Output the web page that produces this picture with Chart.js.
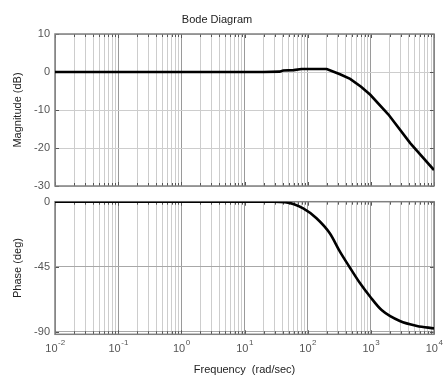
<!DOCTYPE html>
<html>
<head>
<meta charset="utf-8">
<script src="https://cdn.jsdelivr.net/npm/chart.js@4/dist/chart.umd.min.js"></script>
<style>
  html, body { margin: 0; padding: 0; background: #fff; }
  #wrap { position: relative; width: 445px; height: 379px; }
  .box { position: absolute; left: 0; width: 445px; }
</style>
</head>
<body>
<div id="wrap">
  <div class="box" style="top:0;height:200px"><canvas id="mag" width="445" height="200"></canvas></div>
  <div class="box" style="top:190px;height:189px"><canvas id="phase" width="445" height="189"></canvas></div>
</div>
<script>
// values
const magFreq = [0.01, 1, 20, 36, 41, 60, 80, 200, 325, 470, 700, 980, 1900, 4200, 10000];
const magDb = [0, 0, 0, 0.1, 0.4, 0.5, 0.8, 0.8, -0.6, -1.8, -3.9, -6.0, -11.2, -18.7, -25.8];

const phaseFreq = [0.01, 1, 10, 30, 44, 85, 138, 224, 324, 457, 676, 977, 1480, 2880, 5370, 10000];
const phaseDeg = [0, 0, 0, 0, -0.3, -4.6, -11.5, -21.9, -34.6, -45, -56.5, -65.8, -75, -82.6, -86, -87.7];

const decadeExps = [-2, -1, 0, 1, 2, 3, 4];
const magTicks = [-30, -20, -10, 0, 10];
const phaseTicks = [-90, -45, 0];

const FONT = 'Liberation Sans, Arial, Helvetica, sans-serif';

const isDecade = v => Math.abs(Math.log10(v) - Math.round(Math.log10(v))) < 1e-9;

function logTicks() {
    let out = [];
    for (let i = 0; i < decadeExps.length - 1; i++) {
        for (let m = 1; m < 10; m++) {
            out.push({ value: m * Math.pow(10, decadeExps[i]) });
        }
    }
    out.push({ value: Math.pow(10, decadeExps[decadeExps.length - 1]) });
    return out;
}

const toPoints = (xs, ys) => xs.map((x, i) => ({ x: x, y: ys[i] }));

// frame + inward tick marks like matlab
const framePlugin = {
    id: 'frame',
    beforeDatasetsDraw(chart) {
        const { ctx, chartArea: a, scales } = chart;
        ctx.save();
        ctx.strokeStyle = '#555';
        ctx.lineWidth = 1;
        ctx.beginPath();
        scales.x.ticks.forEach(t => {
            const px = Math.round(scales.x.getPixelForValue(t.value)) + 0.5;
            const len = isDecade(t.value) ? 4 : 3;
            ctx.moveTo(px, a.bottom); ctx.lineTo(px, a.bottom - len);
            ctx.moveTo(px, a.top); ctx.lineTo(px, a.top + len);
        });
        scales.y.ticks.forEach(t => {
            const py = Math.round(scales.y.getPixelForValue(t.value)) + 0.5;
            ctx.moveTo(a.left, py); ctx.lineTo(a.left + 4, py);
            ctx.moveTo(a.right, py); ctx.lineTo(a.right - 4, py);
        });
        ctx.stroke();
        ctx.strokeStyle = '#808080';
        ctx.lineWidth = 1.5;
        ctx.strokeRect(a.left, a.top, a.right - a.left, a.bottom - a.top);
        ctx.restore();
    }
};

// 10^n labels with raised exponent
const decadeLabels = {
    id: 'decadeLabels',
    afterDraw(chart) {
        const { ctx, scales } = chart;
        ctx.save();
        ctx.fillStyle = '#555';
        ctx.textBaseline = 'alphabetic';
        ctx.textAlign = 'left';
        decadeExps.forEach(e => {
            const px = scales.x.getPixelForValue(Math.pow(10, e));
            ctx.font = '11px ' + FONT;
            const w1 = ctx.measureText('10').width;
            ctx.font = '8px ' + FONT;
            const w2 = ctx.measureText(String(e)).width;
            const x0 = px - (w1 + w2) / 2;
            ctx.font = '11px ' + FONT;
            ctx.fillText('10', x0, 162);
            ctx.font = '8px ' + FONT;
            ctx.fillText(String(e), x0 + w1 + 0.5, 155);
        });
        ctx.restore();
    }
};

function xScale(showTitle, h) {
    return {
        type: 'logarithmic',
        min: 0.01,
        max: 10000,
        afterBuildTicks: s => { s.ticks = logTicks(); },
        afterFit: s => { s.height = h; },
        ticks: { display: false, autoSkip: false },
        grid: {
            drawTicks: false,
            color: c => (c.tick && isDecade(c.tick.value)) ? '#9a9a9a' : '#cdcdcd',
            lineWidth: 1
        },
        border: { display: false },
        title: {
            display: showTitle,
            text: 'Frequency  (rad/sec)',
            color: '#222',
            font: { family: FONT, size: 11 },
            padding: { top: 0, bottom: 2.4 }
        }
    };
}

function yScale(label, min, max, tickVals, gridColor) {
    return {
        min: min,
        max: max,
        afterBuildTicks: s => { s.ticks = tickVals.map(v => ({ value: v })); },
        afterFit: s => { s.width = 55; },
        ticks: {
            color: '#555',
            padding: 5,
            font: { family: FONT, size: 11 },
            callback: v => String(v)
        },
        grid: { drawTicks: false, color: gridColor, lineWidth: 1 },
        border: { display: false },
        title: {
            display: true,
            text: label,
            color: '#222',
            font: { family: FONT, size: 11 },
            padding: { top: 11.4, bottom: 0 }
        }
    };
}

const lineStyle = {
    borderColor: '#000',
    borderWidth: 2.6,
    pointRadius: 0,
    fill: false
};

new Chart(document.getElementById('mag'), {
    type: 'line',
    data: {
        datasets: [Object.assign({ data: toPoints(magFreq, magDb), tension: 0 }, lineStyle)]
    },
    options: {
        responsive: false,
        animation: false,
        layout: { padding: { left: 0, right: 11, top: 0, bottom: 0 } },
        plugins: {
            legend: { display: false },
            tooltip: { enabled: false },
            title: {
                display: true,
                text: 'Bode Diagram',
                color: '#222',
                font: { family: FONT, size: 11, weight: 'normal' },
                padding: { top: 13, bottom: 7.8 }
            }
        },
        scales: {
            x: xScale(false, 14),
            y: yScale('Magnitude (dB)', -30, 10, magTicks, '#cdcdcd')
        }
    },
    plugins: [framePlugin]
});

new Chart(document.getElementById('phase'), {
    type: 'line',
    data: {
        datasets: [Object.assign({ data: toPoints(phaseFreq, phaseDeg), cubicInterpolationMode: 'monotone' }, lineStyle)]
    },
    options: {
        responsive: false,
        animation: false,
        layout: { padding: { left: 0, right: 11, top: 11.7, bottom: 0 } },
        plugins: {
            legend: { display: false },
            tooltip: { enabled: false }
        },
        scales: {
            x: xScale(true, 44.7),
            y: yScale('Phase (deg)', -91.8, 0, phaseTicks, '#a8a8a8')
        }
    },
    plugins: [framePlugin, decadeLabels]
});
</script>
</body>
</html>
